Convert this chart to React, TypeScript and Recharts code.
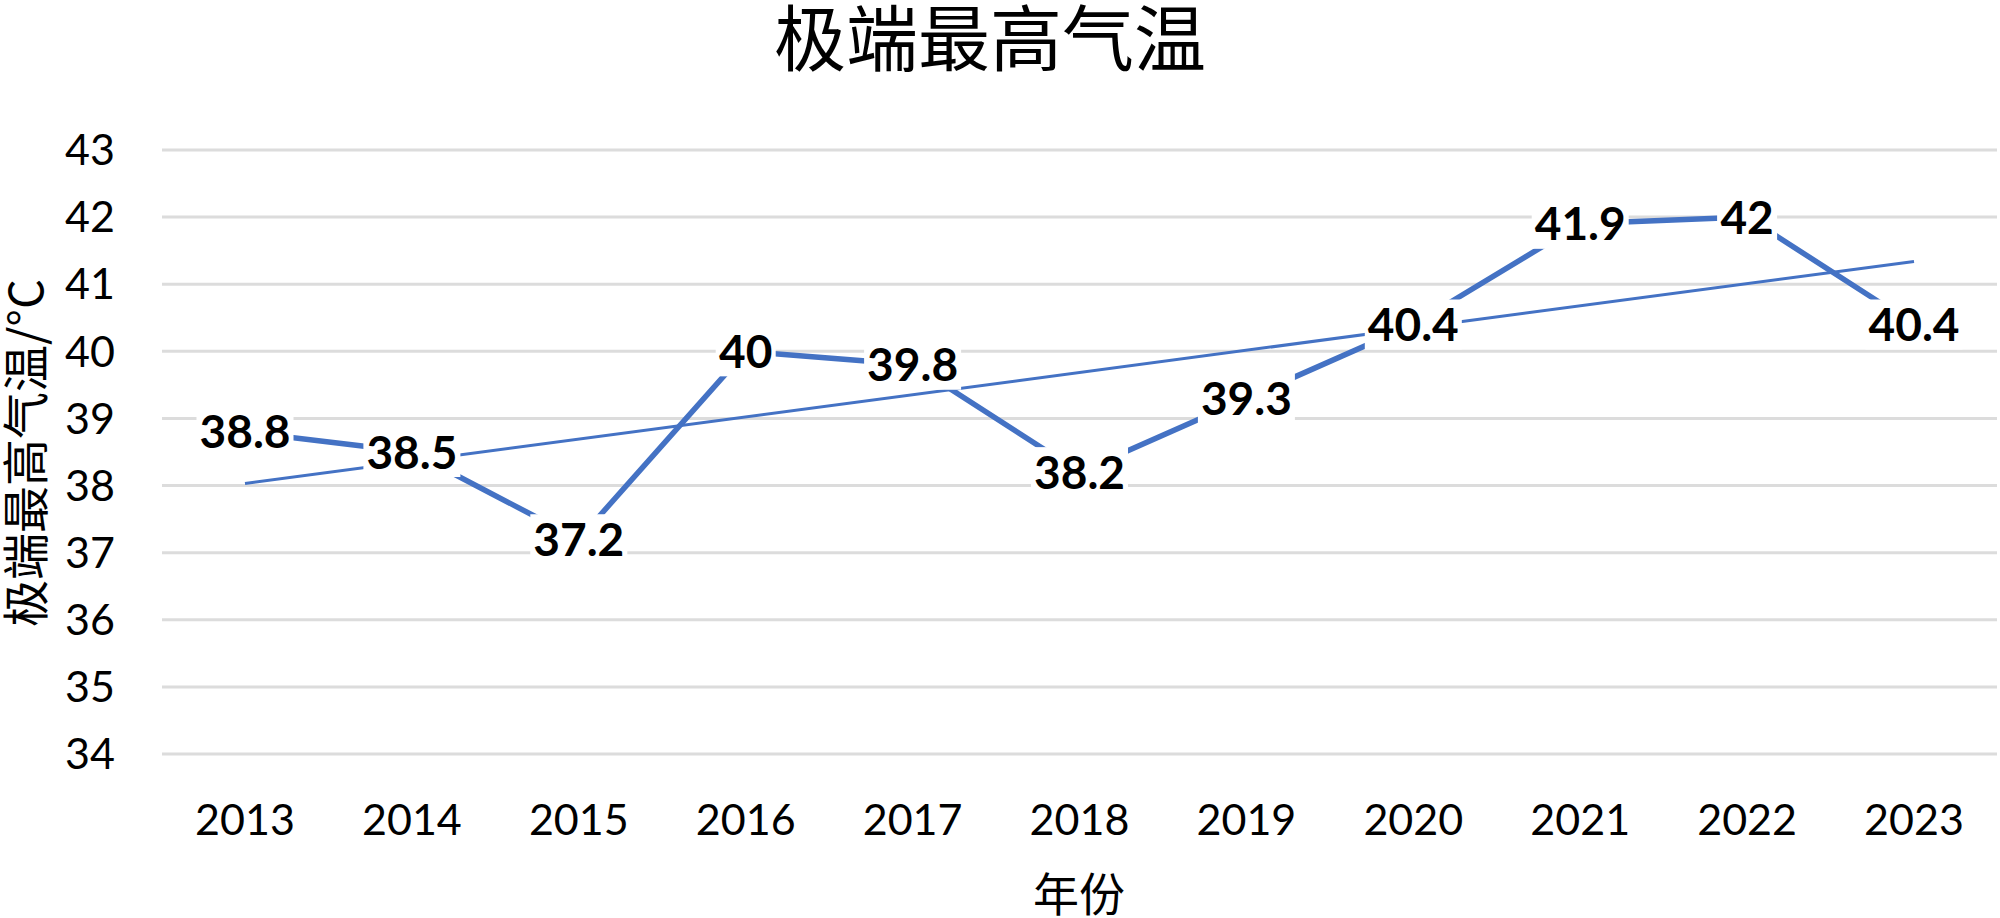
import React from "react";
import { LineChart, Line, XAxis, YAxis, CartesianGrid, LabelList } from "recharts";

const YEARS = ['2013', '2014', '2015', '2016', '2017', '2018', '2019', '2020', '2021', '2022', '2023'];
const TEMPS = [38.8, 38.5, 37.2, 40, 39.8, 38.2, 39.3, 40.4, 41.9, 42, 40.4];
// linear trendline, start and end
const TREND_ENDS = [38.03, 41.34];
const Y_TICKS = [34, 35, 36, 37, 38, 39, 40, 41, 42, 43];

const BLUE = '#4472C4';
const LATIN = 'Lato, "Noto Sans CJK SC", sans-serif';
const CJK = '"Noto Sans CJK SC", sans-serif';

const data = YEARS.map((year, i) => ({
    year,
    temp: TEMPS[i],
    trend: i === 0 ? TREND_ENDS[0] : i === YEARS.length - 1 ? TREND_ENDS[1] : null,
}));

const ValueLabel = (props: any) => {
    const { x, y, value } = props;
    const s = String(value);
    let w = 0;
    for (const ch of s) w += ch === '.' ? 11 : 26;
    w += 8;
    const h = 50;
    return (
        <g>
            <rect x={x - w / 2} y={y - h / 2} width={w} height={h} fill="#ffffff" />
            <text x={x} y={y} dy="0.36em" textAnchor="middle" fontFamily={LATIN} fontWeight="bold" fontSize={46} fill="#000">
                {s}
            </text>
        </g>
    );
};

const textBox: React.CSSProperties = {
    position: 'absolute',
    fontFamily: CJK,
    lineHeight: 1,
    whiteSpace: 'nowrap',
    color: '#000',
};

const App: React.FC = () => {
    return (
        <div style={{ position: 'absolute', left: 0, top: 0, width: 2000, height: 918, background: '#fff', overflow: 'hidden' }}>
            <LineChart width={2000} height={918} data={data} margin={{ top: 150, right: 3, left: 0, bottom: 0 }}>
                <CartesianGrid vertical={false} stroke="#dcdcdc" strokeWidth={3} />
                <XAxis
                    dataKey="year"
                    axisLine={false}
                    tickLine={false}
                    height={164}
                    tickMargin={44}
                    padding={{ left: 83, right: 83 }}
                    tick={{ fontFamily: LATIN, fontSize: 43, fill: '#000' }}
                    interval={0}
                />
                <YAxis
                    domain={[34, 43]}
                    ticks={Y_TICKS}
                    width={162}
                    axisLine={false}
                    tickLine={false}
                    tickMargin={41}
                    tick={{ fontFamily: LATIN, fontSize: 43, fill: '#000' }}
                />
                <Line
                    dataKey="temp"
                    stroke={BLUE}
                    strokeWidth={5.5}
                    dot={false}
                    activeDot={false}
                    isAnimationActive={false}
                >
                    <LabelList dataKey="temp" content={ValueLabel} />
                </Line>
                <Line
                    dataKey="trend"
                    stroke={BLUE}
                    strokeWidth={3}
                    dot={false}
                    activeDot={false}
                    connectNulls
                    isAnimationActive={false}
                />
            </LineChart>
            <div style={{ ...textBox, left: 990, top: -2, fontSize: 72, transform: 'translateX(-50%)' }}>
                极端最高气温
            </div>
            <div style={{ ...textBox, left: 22, top: 453, fontSize: 47, transform: 'translate(-50%, -50%) rotate(-90deg)' }}>
                极端最高气温/°C
            </div>
            <div style={{ ...textBox, left: 1079, top: 868, fontSize: 46, transform: 'translateX(-50%)' }}>
                年份
            </div>
        </div>
    );
};

export default App;
